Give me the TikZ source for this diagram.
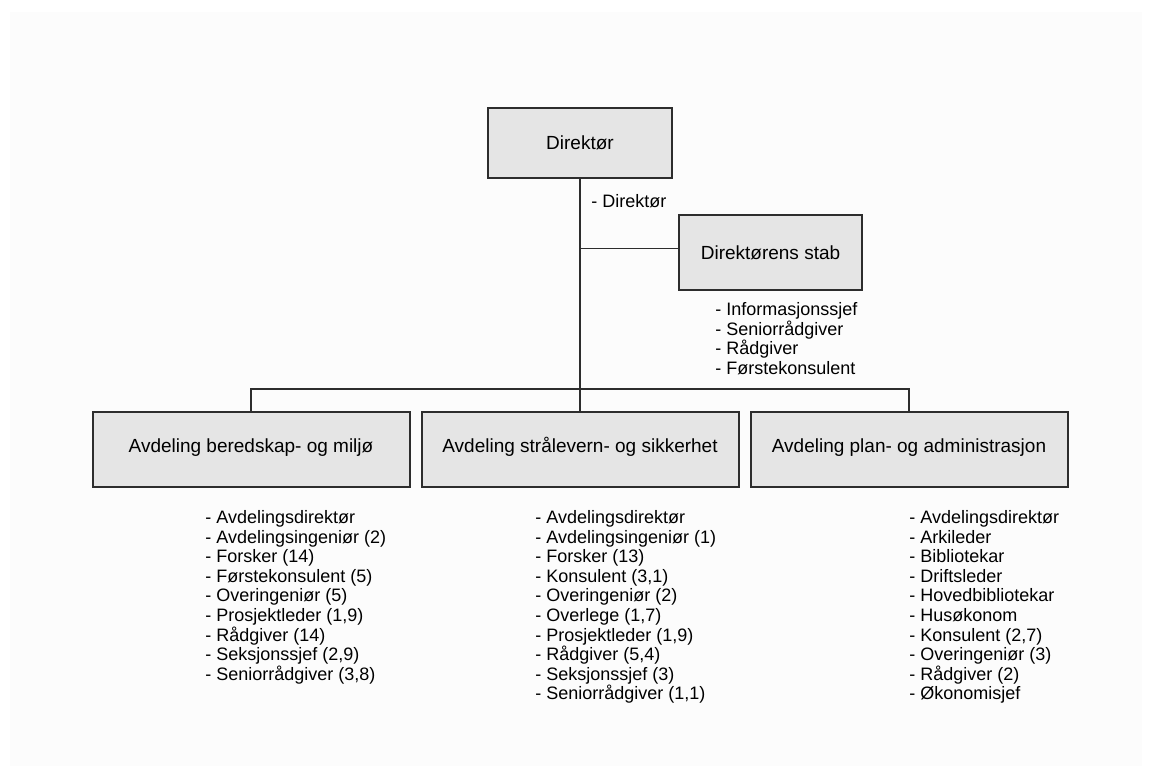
\documentclass[tikz,border=0pt]{standalone}
\usepackage{fontspec}
\setmainfont{Liberation Sans}
\usetikzlibrary{trees}
\definecolor{boksgraa}{RGB}{229,229,229}
\definecolor{strek}{RGB}{45,45,45}
\definecolor{bakgrunn}{RGB}{252,252,252}
\providecommand{\listefont}{\fontsize{9}{9.8}\selectfont}

\begin{document}
\begin{tikzpicture}[x=0.5pt,y=-0.5pt]
  \fontsize{9.5}{11}\selectfont
  \tikzset{
    boks/.style={draw=strek, line width=1pt, fill=boksgraa, inner sep=2pt},
    linje/.style={draw=strek, line width=0.7pt},
    liste/.style={align=left, inner sep=0pt, anchor=north west, font=\listefont}
  }
  \useasboundingbox (0,0) rectangle (1152,778);
  \fill[bakgrunn] (10,12) rectangle (1142,766);
  \node[boks, minimum width=92pt, minimum height=35pt] (dir) at (580,143) {Direktør}[
      every child node/.style={boks, minimum width=158.5pt, minimum height=37.5pt,
        text height=6.5pt, text depth=4pt},
      grow=down, level distance=153.25pt, sibling distance=164.5pt,
      edge from parent/.style={linje},
      edge from parent path={
        (\tikzparentnode.south) -- ++(0,210) -| (\tikzchildnode.north)
      }
    ]
    child { node (beredskap) {Avdeling beredskap- og miljø}}
    child { node (straalevern) {Avdeling strålevern- og sikkerhet}}
    child { node (plan) {Avdeling plan- og administrasjon}};
  \node[boks, minimum width=91.5pt, minimum height=37.5pt, text height=7pt, text depth=-1.5pt]
    (stab) at (770.5,252.5) {Direktørens stab};
  \draw[linje] (dir.south) |- ([yshift=2pt]stab.west);
  % stillinger
  \node[liste, anchor=west] (dirliste) at (591,201) {- Direktør};
  \node[liste] (stabliste) at (715,302) {- Informasjonssjef\\- Seniorrådgiver\\- Rådgiver\\- Førstekonsulent};
  \node[liste] (beredskapliste) at (205,510) {- Avdelingsdirektør\\- Avdelingsingeniør (2)\\- Forsker (14)\\- Førstekonsulent (5)\\- Overingeniør (5)\\- Prosjektleder (1,9)\\- Rådgiver (14)\\- Seksjonssjef (2,9)\\- Seniorrådgiver (3,8)};
  \node[liste] (straalevernliste) at (535,510) {- Avdelingsdirektør\\- Avdelingsingeniør (1)\\- Forsker (13)\\- Konsulent (3,1)\\- Overingeniør (2)\\- Overlege (1,7)\\- Prosjektleder (1,9)\\- Rådgiver (5,4)\\- Seksjonssjef (3)\\- Seniorrådgiver (1,1)};
  \node[liste] (planliste) at (909,510) {- Avdelingsdirektør\\- Arkileder\\- Bibliotekar\\- Driftsleder\\- Hovedbibliotekar\\- Husøkonom\\- Konsulent (2,7)\\- Overingeniør (3)\\- Rådgiver (2)\\- Økonomisjef};
\end{tikzpicture}
\end{document}
